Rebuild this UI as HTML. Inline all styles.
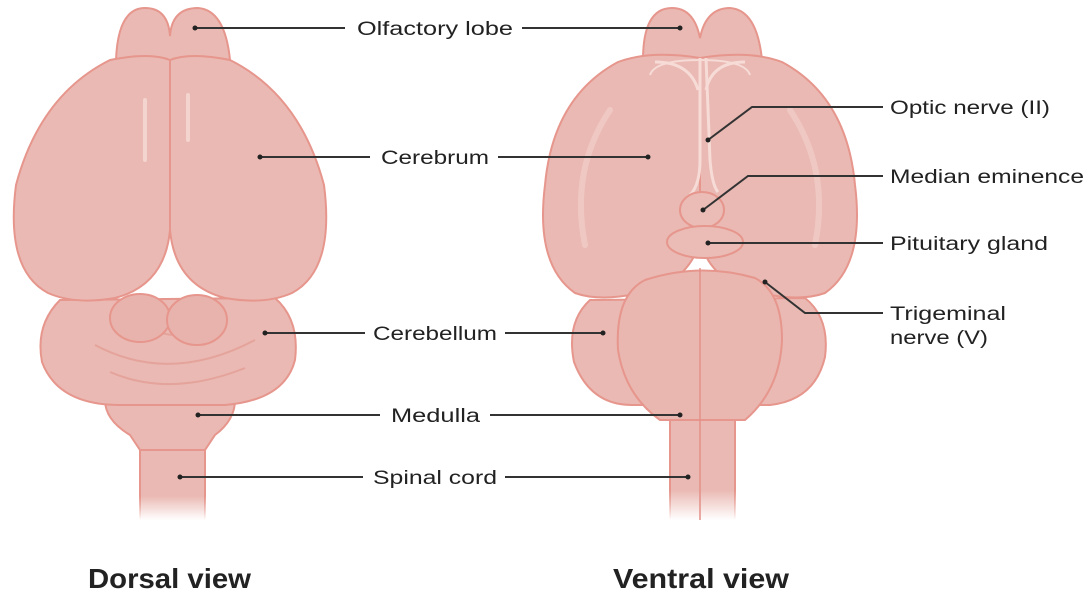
<!DOCTYPE html>
<html><head><meta charset="utf-8"><style>
html,body{margin:0;padding:0;background:#fff;}
svg{display:block;}
text{font-family:"Liberation Sans",sans-serif;fill:#222;}
</style></head><body>
<svg width="1091" height="611" viewBox="0 0 1091 611" xmlns="http://www.w3.org/2000/svg">
<defs>
<linearGradient id="fade" x1="0" y1="0" x2="0" y2="1">
<stop offset="0.7" stop-color="#eab9b3"/><stop offset="1" stop-color="#eab9b3" stop-opacity="0"/>
</linearGradient>
<linearGradient id="fadeS" x1="0" y1="0" x2="0" y2="1">
<stop offset="0.7" stop-color="#e6968c"/><stop offset="1" stop-color="#e6968c" stop-opacity="0"/>
</linearGradient>
</defs>
<g stroke="#e6968c" stroke-width="2" fill="#eab9b3">
<!-- DORSAL -->
<path d="M140 440 L205 440 L205 520 L140 520 Z" fill="url(#fade)" stroke="url(#fadeS)"/>
<path d="M105 400 Q105 420 130 435 L140 450 L205 450 L215 435 Q235 420 235 400 Z"/>
<path d="M60 300 Q35 325 42 362 Q58 405 120 405 L225 405 Q285 400 295 360 Q300 320 275 298 Z"/>
<path d="M95 345 Q170 385 255 340 M110 372 Q170 398 245 368 M150 328 Q175 342 200 328" fill="none" stroke="#e4a39b"/>
<ellipse cx="140" cy="318" rx="30" ry="24" fill="#e9b3ad"/>
<ellipse cx="197" cy="320" rx="30" ry="25" fill="#e9b3ad"/>
<path d="M116 60 Q118 8 145 8 Q168 8 170 36 Q172 8 198 8 Q225 10 230 60 Z"/>
<path d="M170 60 Q150 52 110 60 Q40 95 16 185 Q5 270 48 293 Q75 305 115 298 Q165 285 170 230 Z"/>
<path d="M170 60 Q190 52 230 60 Q300 95 324 185 Q335 270 292 293 Q265 305 225 298 Q175 285 170 230 Z"/>
<!-- VENTRAL -->
<path d="M670 420 L735 420 L735 520 L670 520 Z" fill="url(#fade)" stroke="url(#fadeS)"/>
<path d="M643 60 Q643 8 672 8 Q694 8 700 38 Q706 8 730 8 Q757 10 762 60 Z"/>
<path d="M590 300 Q566 322 574 362 Q590 405 632 405 L770 405 Q815 400 825 357 Q830 318 805 298 Z"/>
<path d="M700 58 Q650 50 618 62 Q553 97 545 185 Q535 265 575 293 Q600 302 640 293 Q690 282 700 240 Z"/>
<path d="M700 58 Q750 50 782 62 Q847 97 855 185 Q865 265 825 293 Q800 302 760 293 Q710 282 700 240 Z"/>
<path d="M645 280 Q615 295 618 350 Q625 395 660 420 L745 420 Q780 390 782 340 Q782 292 755 278 Q700 262 645 280 Z" fill="#eab6b0"/>
<line x1="700" y1="268" x2="700" y2="520" stroke="#e39088" stroke-width="1.5"/>
<path d="M700 58 L700 160 Q700 185 690 195 M706 58 L710 160 Q712 185 718 192" fill="none" stroke="#f6dbd6" stroke-width="3"/>
<path d="M655 62 Q690 62 698 90 M745 62 Q712 62 706 90" fill="none" stroke="#f6dbd6" stroke-width="3"/>
<path d="M650 75 Q655 60 700 60 Q745 60 750 75" fill="none" stroke="#f6dbd6" stroke-width="2"/>
<ellipse cx="702" cy="210" rx="22" ry="18" fill="#ebbcb6"/>
<ellipse cx="705" cy="242" rx="38" ry="16" fill="#ebbcb6"/>
</g>
<g stroke="#f6dbd6" stroke-width="4" stroke-linecap="round" fill="none" opacity="0.8">
<line x1="145" y1="100" x2="145" y2="160"/><line x1="188" y1="95" x2="188" y2="140"/>
<path d="M610 110 Q570 170 585 245" stroke-width="6" opacity="0.6"/><path d="M790 110 Q830 170 815 245" stroke-width="6" opacity="0.6"/>
</g>
<!-- leader lines -->
<g stroke="#333" stroke-width="2" fill="none">
<line x1="195" y1="28" x2="345" y2="28"/><line x1="522" y1="28" x2="680" y2="28"/>
<line x1="260" y1="157" x2="370" y2="157"/><line x1="498" y1="157" x2="648" y2="157"/>
<line x1="265" y1="333" x2="365" y2="333"/><line x1="505" y1="333" x2="603" y2="333"/>
<line x1="198" y1="415" x2="380" y2="415"/><line x1="490" y1="415" x2="680" y2="415"/>
<line x1="180" y1="477" x2="363" y2="477"/><line x1="505" y1="477" x2="688" y2="477"/>
<polyline points="708,140 752,107 883,107"/>
<polyline points="703,210 748,176 883,176"/>
<line x1="708" y1="243" x2="883" y2="243"/>
<polyline points="765,282 805,313 883,313"/>
</g>
<g fill="#222">
<circle cx="195" cy="28" r="2.5"/><circle cx="680" cy="28" r="2.5"/>
<circle cx="260" cy="157" r="2.5"/><circle cx="648" cy="157" r="2.5"/>
<circle cx="265" cy="333" r="2.5"/><circle cx="603" cy="333" r="2.5"/>
<circle cx="198" cy="415" r="2.5"/><circle cx="680" cy="415" r="2.5"/>
<circle cx="180" cy="477" r="2.5"/><circle cx="688" cy="477" r="2.5"/>
<circle cx="708" cy="140" r="2.5"/><circle cx="703" cy="210" r="2.5"/>
<circle cx="708" cy="243" r="2.5"/><circle cx="765" cy="282" r="2.5"/>
</g>
<g font-size="19">
<text x="357" y="35" textLength="156" lengthAdjust="spacingAndGlyphs">Olfactory lobe</text>
<text x="381" y="164" textLength="108" lengthAdjust="spacingAndGlyphs">Cerebrum</text>
<text x="373" y="340" textLength="124" lengthAdjust="spacingAndGlyphs">Cerebellum</text>
<text x="391" y="422" textLength="89" lengthAdjust="spacingAndGlyphs">Medulla</text>
<text x="373" y="484" textLength="124" lengthAdjust="spacingAndGlyphs">Spinal cord</text>
<text x="890" y="114" textLength="160" lengthAdjust="spacingAndGlyphs">Optic nerve (II)</text>
<text x="890" y="183" textLength="194" lengthAdjust="spacingAndGlyphs">Median eminence</text>
<text x="890" y="250" textLength="158" lengthAdjust="spacingAndGlyphs">Pituitary gland</text>
<text x="890" y="320" textLength="116" lengthAdjust="spacingAndGlyphs">Trigeminal</text>
<text x="890" y="344" textLength="98" lengthAdjust="spacingAndGlyphs">nerve (V)</text>
</g>
<g font-size="28" font-weight="bold">
<text x="88" y="588" textLength="163" lengthAdjust="spacingAndGlyphs">Dorsal view</text>
<text x="613" y="588" textLength="176" lengthAdjust="spacingAndGlyphs">Ventral view</text>
</g>
</svg>
</body></html>
